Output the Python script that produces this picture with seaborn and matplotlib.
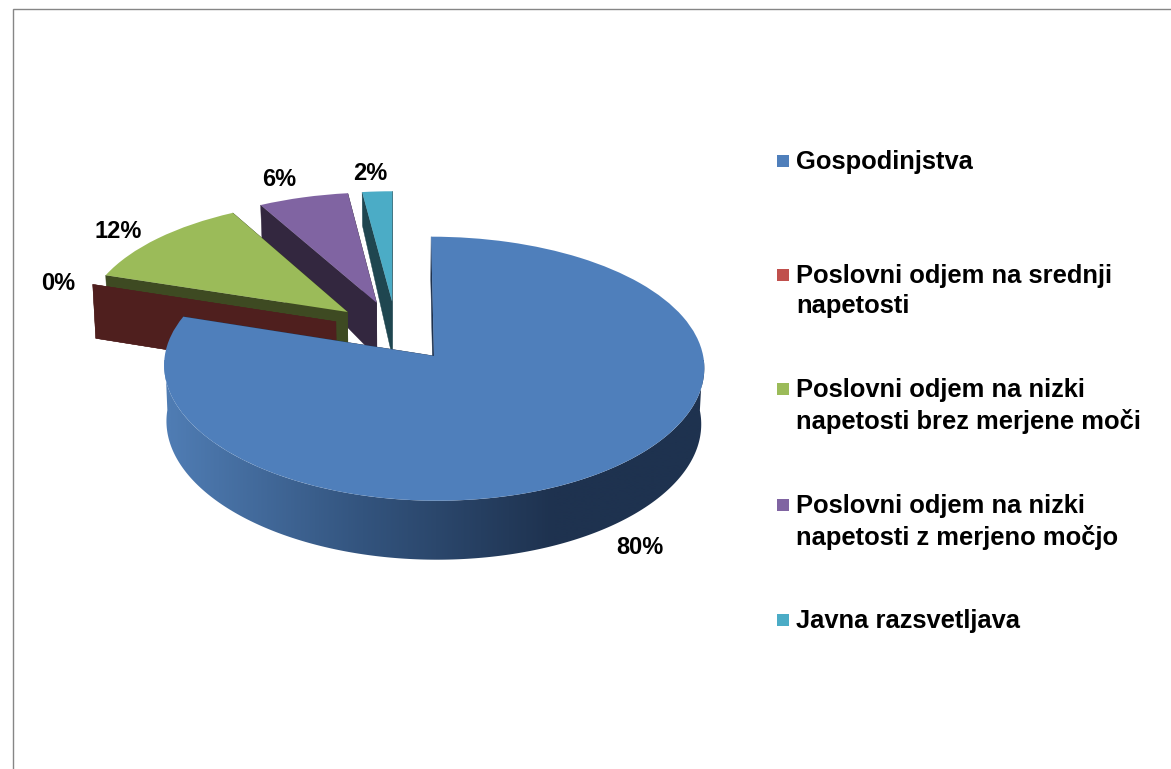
import numpy as np
import matplotlib
matplotlib.use("Agg")
import matplotlib.pyplot as plt
import seaborn as sns
from matplotlib.colors import ListedColormap
from matplotlib.patches import Polygon
from matplotlib.transforms import Transform

categories = ["Gospodinjstva",
              "Poslovni odjem na srednji\nnapetosti",
              "Poslovni odjem na nizki\nnapetosti brez merjene moči",
              "Poslovni odjem na nizki\nnapetosti z merjeno močjo",
              "Javna razsvetljava"]
values = [80, 0, 12, 6, 2]
top_colors = ["#4f7fbb", "#c0504d", "#9bbb59", "#8064a2", "#4bacc6"]
side_colors = ["#1e324f", "#4f1f1e", "#3e4a22", "#33273f", "#1f4650"]

sns.set_theme(style="white")
plt.rcParams["font.family"] = ["Liberation Sans", "DejaVu Sans"]

# the projected pie, all in pixels of the picture
cx, cy = 396, 331
sx, sy = 265, 126
tilt_x, tilt_y = 0.08, 0.095
shrink = 0.99
depth_y = [-1.2, 0.38, 1.1, 1.3]
depth_px = [59, 54, 35, 33]


def project(x, y, lower=False):
    x = np.asarray(x, dtype=float)
    y = np.asarray(y, dtype=float)
    px = sx * x / (1 + tilt_x * y)
    py = -sy * y / (1 + tilt_y * y)
    if lower:
        px = px * shrink
        py = py + np.interp(y, depth_y, depth_px)
    return cx + px, cy + py


class Tilted(Transform):
    input_dims = 2
    output_dims = 2
    is_separable = False
    has_inverse = False

    def transform_non_affine(self, values):
        px, py = project(values[:, 0], values[:, 1])
        return np.column_stack([px, py])


fig = plt.figure(figsize=(11.71, 7.69), dpi=100, facecolor="white")
ax = fig.add_axes([0, 0, 1, 1])

wedges, _ = ax.pie(values, explode=[0.24] * len(values), colors=top_colors,
                   startangle=90, counterclock=False, radius=1,
                   wedgeprops={"linewidth": 0})
tilted = Tilted() + ax.transData

# painter's order: back slices first, blue last
for z, i in enumerate([4, 3, 2, 1, 0]):
    wedge = wedges[i]
    wedge.set_transform(tilted)
    wedge.set_zorder(10 * z + 5)
    x0, y0 = wedge.center
    t = np.radians(np.linspace(wedge.theta1, wedge.theta2, 400))
    xs = x0 + wedge.r * np.cos(t)
    ys = y0 + wedge.r * np.sin(t)

    for x1, y1 in [(xs[0], ys[0]), (xs[-1], ys[-1])]:
        line_x = np.array([x0, x1])
        line_y = np.array([y0, y1])
        ux, uy = project(line_x, line_y)
        lx, ly = project(line_x, line_y, lower=True)
        ax.fill(np.r_[ux, lx[::-1]], np.r_[uy, ly[::-1]], color=side_colors[i],
                lw=0.3, zorder=10 * z)

    if i == 0:
        # only the front of the rim shows, shaded from left to right
        front = np.sin(t) <= 0.02
        ux, uy = project(xs[front], ys[front])
        lx, ly = project(xs[front], ys[front], lower=True)
        rim = Polygon(np.column_stack([np.r_[ux, lx[::-1]], np.r_[uy, ly[::-1]]]),
                      transform=ax.transData)
        ramp = ListedColormap(sns.blend_palette(["#4f7cb3", "#33547e", "#1e324f"], 256))
        shade = np.clip((np.arange(160, 711) - 170) / (555 - 170), 0, 1)[None, :]
        im = ax.imshow(shade, cmap=ramp, extent=(160, 710, 570, 360), aspect="auto",
                       interpolation="bilinear", zorder=10 * z + 1)
        im.set_clip_path(rim)

ax.set_aspect("auto")
ax.set_xlim(0, 1171)
ax.set_ylim(769, 0)
ax.axis("off")

# percentages
label_x = [640, 58, 118, 279, 370]
label_y = [548, 283, 232, 179, 174]
for v, x, y in zip(values, label_x, label_y):
    ax.text(x, y, f"{v}%", ha="center", va="center", fontsize=17, fontweight="bold",
            color="black", zorder=100)

# legend
legend_y = [161, 275, 389, 505, 620]
for name, color, y in zip(categories, top_colors, legend_y):
    ax.scatter([783], [y], marker="s", s=81, color=color, linewidths=0, zorder=100)
    ax.text(796, y - 11, name, ha="left", va="top", fontsize=18.35, fontweight="bold",
            color="black", linespacing=1.34, zorder=100)

# border of the pasted chart
ax.plot([12.5, 12.5, 1171], [769, 8.5, 8.5], color="#868686", lw=1.0, zorder=100,
        solid_joinstyle="miter", clip_on=False)

fig.savefig("out.png", dpi=100, facecolor="white")
